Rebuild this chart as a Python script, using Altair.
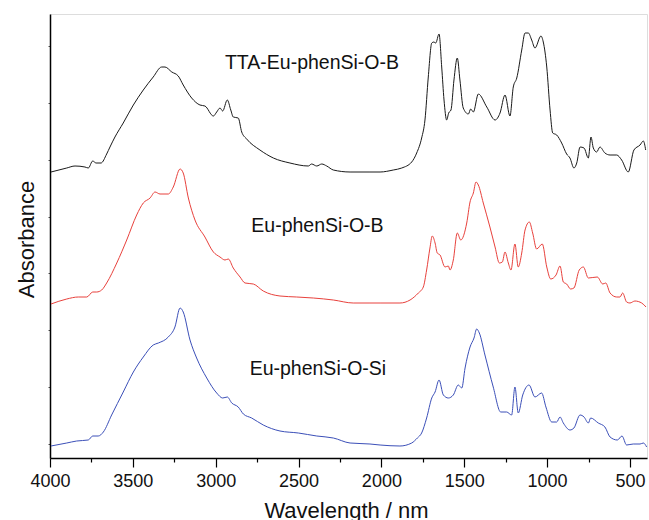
import altair as alt
import pandas as pd

# ---- data (wavenumber, absorbance in arbitrary offset units) ----
wn_black = [3994,3899,3849,3789,3769,3742,3722,3692,3658,3638,3608,3558,3497,3437,3377,3326,3306,3265,3226,3196,3145,3095,3065,3014,2994,2974,2958,2930,2909,2894,2864,2843,2813,2733,2652,2552,2441,2421,2390,2360,2330,2290,2189,2069,2008,1928,1877,1817,1787,1757,1737,1717,1696,1683,1672,1652,1636,1622,1606,1594,1580,1562,1542,1526,1506,1475,1461,1445,1415,1364,1314,1284,1254,1224,1204,1183,1153,1133,1113,1093,1073,1037,1023,1002,982,966,942,912,882,862,838,821,801,777,751,735,721,701,681,651,620,580,550,510,476,439,419,405]
ab_black = [2.86,2.90,2.92,2.91,2.90,2.97,2.95,2.95,3.04,3.11,3.21,3.35,3.53,3.68,3.81,3.91,3.91,3.86,3.82,3.73,3.60,3.53,3.52,3.42,3.46,3.50,3.47,3.58,3.48,3.41,3.40,3.26,3.19,3.08,3.00,2.95,2.92,2.94,2.92,2.94,2.92,2.88,2.86,2.86,2.86,2.88,2.90,2.96,3.05,3.20,3.38,3.81,4.15,4.16,4.15,4.24,3.91,3.58,3.38,3.45,3.48,3.78,4.00,3.78,3.50,3.44,3.49,3.46,3.64,3.51,3.38,3.45,3.63,3.42,3.71,3.80,4.08,4.25,4.25,4.18,4.10,4.22,4.16,3.91,3.48,3.25,3.23,3.15,3.04,3.00,2.90,2.95,3.11,3.10,3.00,3.21,3.10,3.06,3.11,3.05,3.03,3.03,2.98,2.86,3.08,3.13,3.17,3.08]

wn_red = [3994,3899,3829,3778,3742,3718,3688,3658,3597,3537,3477,3437,3396,3366,3336,3286,3256,3215,3196,3165,3125,3065,3014,2974,2944,2924,2894,2853,2823,2773,2713,2612,2511,2411,2290,2170,2069,2008,1888,1827,1777,1747,1727,1707,1693,1676,1663,1646,1616,1596,1586,1566,1542,1521,1485,1465,1445,1429,1415,1385,1345,1314,1288,1270,1254,1234,1218,1194,1174,1153,1133,1107,1087,1063,1029,1002,978,946,922,902,882,858,838,806,781,751,697,664,646,620,580,560,544,520,500,470,429,403]
ab_red = [1.54,1.59,1.61,1.61,1.66,1.66,1.68,1.75,1.95,2.18,2.43,2.55,2.60,2.66,2.64,2.64,2.71,2.89,2.85,2.60,2.38,2.21,2.06,2.01,1.98,1.99,1.90,1.81,1.75,1.74,1.67,1.62,1.61,1.60,1.58,1.55,1.55,1.55,1.55,1.58,1.65,1.71,1.88,2.10,2.22,2.15,2.05,2.03,1.91,1.92,1.88,1.98,2.25,2.18,2.35,2.56,2.65,2.76,2.73,2.55,2.31,2.11,1.95,1.96,2.06,1.95,1.88,2.14,1.91,2.05,2.28,2.36,2.25,2.09,2.14,1.91,1.79,1.83,1.92,1.76,1.74,1.69,1.70,1.88,1.91,1.80,1.81,1.74,1.75,1.65,1.61,1.61,1.65,1.56,1.55,1.57,1.55,1.51]

wn_blue = [3994,3899,3839,3769,3742,3709,3678,3628,3558,3497,3437,3377,3346,3286,3246,3215,3196,3155,3115,3054,2994,2958,2930,2903,2864,2833,2783,2713,2612,2501,2390,2290,2189,2069,2008,1888,1817,1783,1757,1727,1696,1676,1652,1626,1596,1566,1536,1515,1495,1465,1441,1425,1409,1375,1325,1280,1244,1214,1194,1174,1147,1109,1073,1033,1007,972,942,922,902,862,838,801,777,751,737,691,651,620,576,548,520,480,439,419,399]
ab_blue = [0.12,0.15,0.17,0.18,0.22,0.22,0.26,0.43,0.66,0.86,1.01,1.13,1.15,1.21,1.31,1.50,1.46,1.18,1.00,0.80,0.65,0.60,0.61,0.55,0.51,0.44,0.40,0.33,0.27,0.25,0.22,0.20,0.15,0.14,0.13,0.12,0.15,0.20,0.25,0.40,0.60,0.66,0.78,0.63,0.60,0.63,0.73,0.70,0.90,1.11,1.20,1.29,1.25,1.03,0.71,0.46,0.46,0.43,0.71,0.45,0.63,0.73,0.61,0.65,0.51,0.36,0.36,0.41,0.35,0.28,0.30,0.43,0.41,0.35,0.40,0.35,0.31,0.21,0.18,0.22,0.13,0.14,0.14,0.15,0.11]

series_names = ["TTA-Eu-phenSi-O-B", "Eu-phenSi-O-B", "Eu-phenSi-O-Si"]
series_colors = ["#1a1a1a", "#e8413c", "#3b4fb8"]

label_x = [2419, 2386, 2383]
label_y = [3.89, 2.26, 0.83]

major_ticks = [4000, 3500, 3000, 2500, 2000, 1500, 1000, 500]
minor_ticks = [3750, 3250, 2750, 2250, 1750, 1250, 750]
y_ticks = [round(0.142 * i, 3) for i in range(1, 32)]

FONT = "Liberation Sans"

frames = []
for name, wn, ab in zip(series_names, [wn_black, wn_red, wn_blue], [ab_black, ab_red, ab_blue]):
    frames.append(pd.DataFrame({"wn": wn, "ab": ab, "series": name}))
df = pd.concat(frames, ignore_index=True)
df_lab = pd.DataFrame({"wn": label_x, "ab": label_y, "text": series_names})

x_scale = alt.Scale(domain=[4000, 397], nice=False, zero=False)
y_scale = alt.Scale(domain=[0, 4.44], nice=False, zero=False)

lines = alt.Chart(df).mark_line(strokeWidth=1, interpolate="monotone").encode(
    x=alt.X("wn:Q", scale=x_scale,
            axis=alt.Axis(
                title="Wavelength / nm",
                values=major_ticks + minor_ticks,
                labelExpr="datum.value % 500 == 0 ? datum.label : ''",
                format="d",
                tickSize={"condition": {"test": "datum.value % 500 != 0", "value": 4}, "value": 9},
                tickColor="black", tickWidth=1.2,
                domainColor="black", domainWidth=1.5,
                labelFont=FONT, labelFontSize=18, labelColor="#111",
                labelPadding=5, labelFlush=False, labelOverlap=False,
                titleFont=FONT, titleFontSize=22, titleFontWeight="normal", titleColor="#111",
                titleX=296, titleY=59, titleBaseline="alphabetic", titleAlign="center",
                grid=False,
            )),
    y=alt.Y("ab:Q", scale=y_scale,
            axis=alt.Axis(
                title="Absorbance",
                values=y_ticks,
                labels=False,
                tickSize=2, tickColor="#555", tickWidth=1,
                domainColor="black", domainWidth=1.5,
                titleFont=FONT, titleFontSize=22, titleFontWeight="normal", titleColor="#111",
                titleAngle=270, titleX=-17, titleY=225,
                titleBaseline="alphabetic", titleAlign="center",
                grid=False,
            )),
    color=alt.Color("series:N", scale=alt.Scale(domain=series_names, range=series_colors), legend=None),
    detail="series:N",
)

labels = alt.Chart(df_lab).mark_text(
    align="center", baseline="alphabetic", font=FONT, fontSize=19.5, color="#111"
).encode(
    x=alt.X("wn:Q", scale=x_scale),
    y=alt.Y("ab:Q", scale=y_scale),
    text="text:N",
)

chart = alt.layer(lines, labels).properties(
    width=597, height=444,
    autosize=alt.AutoSizeParams(type="none"),
    padding={"left": 50, "top": 14, "right": 2, "bottom": 62},
).configure_view(stroke=None).configure(background="white")

chart.save("out.html", embed_options={"renderer": "svg", "actions": False})
